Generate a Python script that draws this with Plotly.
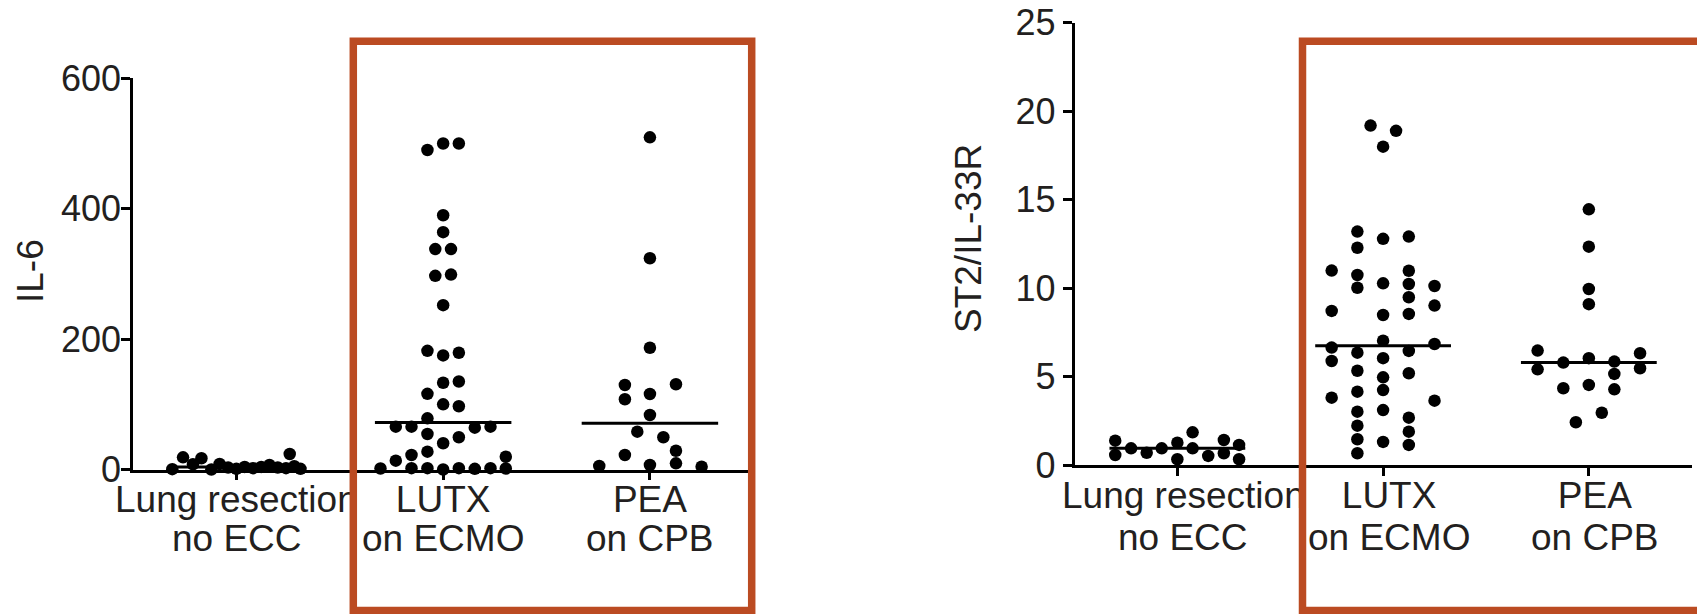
import numpy as np
import plotly.graph_objects as go

# ---------------- data ----------------
categories_line1 = ["Lung resection", "LUTX", "PEA"]
categories_line2 = ["no ECC", "on ECMO", "on CPB"]

il6_ticks = [0, 200, 400, 600]
st2_ticks = [0, 5, 10, 15, 20, 25]

# IL-6 values (left panel)
il6_lung = [0.5, 18.7, 8, 17.2, 0, 8.4, 3, 1, 4, 2, 4, 7, 3, 2, 23.8, 5, 1]
il6_lutx = [490, 500, 500, 390, 364, 338, 338, 297, 299, 252,
            182, 175, 179, 133, 135, 116, 100, 97, 78.5,
            65.7, 65.7, 64.2, 65.7, 54.4, 40.2, 49.4, 22.2, 27.3, 19.6, 13.5,
            1.5, 2, 2, 0, 2, 1, 2, 1.5]
il6_pea = [509.5, 324, 186.8, 129.6, 130.7, 107.7, 115.8, 83.6, 58, 49.4,
           28.8, 22.2, 5.4, 6.9, 9.5, 4.3]

# ST2/IL-33R values (right panel)
st2_lung = [1.39, 0.58, 0.96, 0.71, 0.96, 1.28, 0.34, 1.86, 0.96, 0.53, 1.43, 0.68, 1.15, 0.34]
st2_lutx = [19.19, 18.89, 18.0,
            11.0, 8.72, 6.65, 5.89, 3.82,
            13.2, 12.29, 10.75, 10.03, 6.36, 5.34, 4.16, 3.03, 2.24, 1.47, 0.68,
            12.79, 10.28, 8.49, 7.04, 6.05, 4.97, 4.25, 3.12, 1.32,
            12.92, 10.99, 10.24, 9.49, 8.55, 6.46, 5.2, 2.69, 1.9, 1.15,
            10.13, 9.02, 6.85, 3.65]
st2_pea = [14.46, 12.35, 9.96, 9.1, 6.48, 5.42, 5.8, 6.05, 5.86, 5.16, 6.33, 5.48,
           4.35, 4.54, 4.29, 2.97, 2.43]

# ---------------- swarm offsets (horizontal positions within each group) ----------------
il6_lung_dx = [-0.31, -0.258, -0.21, -0.169, -0.121, -0.081, -0.04, 0.0, 0.04, 0.08,
               0.12, 0.16, 0.20, 0.24, 0.258, 0.28, 0.31]
il6_lutx_dx = [-0.076, 0, 0.076, 0, 0, -0.038, 0.038, -0.038, 0.038, 0,
               -0.076, 0, 0.076, 0, 0.076, -0.076, 0, 0.076, -0.076,
               -0.229, -0.153, 0.153, 0.229, -0.076, 0, 0.076, -0.153, -0.076, 0.303, -0.229,
               -0.303, -0.153, -0.076, 0, 0.076, 0.153, 0.229, 0.303]
il6_pea_dx = [0, 0, 0, -0.121, 0.126, -0.121, 0, 0, -0.061, 0.065,
              0.126, -0.121, -0.245, 0, 0.126, 0.25]
st2_lung_dx = [-0.302, -0.302, -0.225, -0.149, -0.076, 0, 0, 0.074, 0.074, 0.15,
               0.226, 0.226, 0.30, 0.30]
st2_lutx_dx = ([-0.061, 0.063, 0] + [-0.25] * 5 + [-0.125] * 11 + [0] * 9 +
               [0.125] * 10 + [0.25] * 4)
st2_pea_dx = [0, 0, 0, 0, -0.249, -0.249, -0.124, 0, 0.124, 0.124, 0.249, 0.249,
              -0.124, 0, 0.124, 0.063, -0.063]

# ---------------- styling ----------------
W, H = 1697, 614
FONT = "Liberation Sans, Arial, Helvetica, sans-serif"
TXT = "#231f20"
ORANGE = "#BB4B22"
MARK = 12.5
MED_HALF = 0.33

fig = go.Figure()


def add_panel(groups, dxs, xa, ya):
    for i, (vals, dx) in enumerate(zip(groups, dxs)):
        fig.add_trace(go.Scatter(
            x=[i + d for d in dx], y=vals, mode="markers",
            marker=dict(size=MARK, color="black", line=dict(width=0)),
            xaxis=xa, yaxis=ya, cliponaxis=False, showlegend=False, hoverinfo="y"))
        med = float(np.median(vals))
        fig.add_trace(go.Scatter(
            x=[i - MED_HALF, i + MED_HALF], y=[med, med], mode="lines",
            line=dict(color="black", width=3),
            xaxis=xa, yaxis=ya, cliponaxis=False, showlegend=False, hoverinfo="skip"))


add_panel([il6_lung, il6_lutx, il6_pea], [il6_lung_dx, il6_lutx_dx, il6_pea_dx], "x", "y")
add_panel([st2_lung, st2_lutx, st2_pea], [st2_lung_dx, st2_lutx_dx, st2_pea_dx], "x2", "y2")

px_x = lambda p: p / W
px_y = lambda p: 1 - p / H

axis_common = dict(showline=True, linecolor="black", linewidth=2.6, ticks="outside",
                   tickcolor="black", tickwidth=2.6, showgrid=False, zeroline=False,
                   fixedrange=True, automargin=False)

xcommon = dict(axis_common, range=[-0.5, 2.5], tickvals=[0, 1, 2], ticktext=categories_line1,
               ticklen=8, ticklabelstandoff=-13,
               tickfont=dict(family=FONT, size=37, color=TXT))

fig.update_layout(
    width=W, height=H, margin=dict(l=0, r=0, t=0, b=0, pad=0), autosize=False,
    paper_bgcolor="white", plot_bgcolor="white", showlegend=False,
    xaxis=dict(xcommon, domain=[px_x(133), px_x(753.3)], anchor="y"),
    yaxis=dict(axis_common, domain=[px_y(469.5), px_y(78.3)], anchor="x", range=[0, 600],
               tickvals=il6_ticks, ticklen=9, ticklabelstandoff=-7,
               tickfont=dict(family=FONT, size=36, color=TXT)),
    xaxis2=dict(xcommon, domain=[px_x(1074.5), px_x(1691.7)], anchor="y2", ticklabelshift=6),
    yaxis2=dict(axis_common, domain=[px_y(465.3), px_y(22.7)], anchor="x2", range=[0, 25],
                tickvals=st2_ticks, ticklen=9,
                tickfont=dict(family=FONT, size=36, color=TXT)),
)

annotations = []
# second line of category labels
for xa_center, base in [((236.7, 443.3, 650.0), 538.5), ((1183.0, 1389.0, 1595.0), 537.5)]:
    for cx, txt in zip(xa_center, categories_line2):
        annotations.append(dict(x=px_x(cx), y=px_y(base), xref="paper", yref="paper",
                                text=txt, showarrow=False, xanchor="center", yanchor="middle",
                                font=dict(family=FONT, size=37, color=TXT)))
# y-axis titles
annotations.append(dict(x=px_x(30), y=px_y(271), xref="paper", yref="paper", text="IL-6",
                        textangle=-90, showarrow=False, xanchor="center", yanchor="middle",
                        font=dict(family=FONT, size=37, color=TXT)))
annotations.append(dict(x=px_x(969), y=px_y(238), xref="paper", yref="paper", text="ST2/IL-33R",
                        textangle=-90, showarrow=False, xanchor="center", yanchor="middle",
                        font=dict(family=FONT, size=37, color=TXT)))
fig.update_layout(annotations=annotations)

# highlight boxes
shapes = [
    dict(type="rect", xref="paper", yref="paper", x0=px_x(353.3), x1=px_x(751.7),
         y0=px_y(610.5), y1=px_y(41.2), line=dict(color=ORANGE, width=7.5), layer="above"),
    dict(type="rect", xref="paper", yref="paper", x0=px_x(1302.5), x1=px_x(1701),
         y0=px_y(610.5), y1=px_y(41.3), line=dict(color=ORANGE, width=7.5), layer="above"),
]
fig.update_layout(shapes=shapes)

fig.write_html("out.html", config={"displayModeBar": False},
               post_script="document.body.style.margin='0';document.body.style.overflow='hidden';")
